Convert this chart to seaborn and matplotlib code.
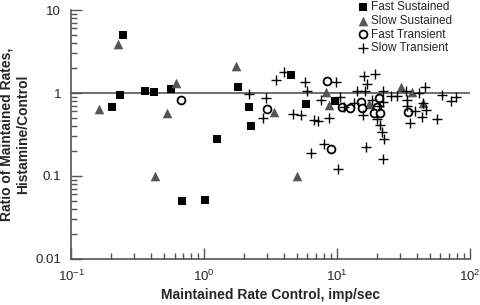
import numpy as np
import pandas as pd
import matplotlib
matplotlib.use("Agg")
import matplotlib.pyplot as plt
import seaborn as sns

sns.set_style("ticks")
plt.rcParams['font.family'] = ['Liberation Sans', 'DejaVu Sans']
plt.rcParams['mathtext.default'] = 'regular'

# Fast Sustained (filled squares)
fs_x = [0.246, 0.234, 0.203, 0.36, 0.42, 0.565, 1.80, 2.18, 2.26, 1.25, 0.684, 1.02, 4.51, 5.85, 9.66]
fs_y = [5.0, 0.946, 0.678, 1.06, 1.03, 1.12, 1.18, 0.68, 0.40, 0.279, 0.050, 0.051, 1.65, 0.74, 0.80]

# Slow Sustained (gray triangles)
ss_x = [0.226, 0.162, 0.616, 0.527, 1.74, 3.36, 5.0, 0.428, 8.27, 8.71, 17.4, 30.3, 36.6, 44.3]
ss_y = [3.9, 0.642, 1.32, 0.574, 2.11, 0.59, 0.10, 0.10, 1.03, 0.72, 0.74, 1.18, 1.03, 0.76]

# Fast Transient (open circles)
ft_x = [0.672, 2.98, 8.41, 9.01, 10.9, 12.5, 15.1, 15.4, 20.0, 20.7, 19.0, 21.1, 34.2]
ft_y = [0.82, 0.64, 1.39, 0.21, 0.68, 0.66, 0.78, 0.66, 0.68, 0.87, 0.57, 0.57, 0.59]

# Slow Transient (plus)
st_x = [2.18, 2.93, 2.78, 3.48, 4.0, 4.67, 5.36, 5.75, 5.95, 6.71, 7.20, 7.58, 8.71,
        9.83, 10.5, 7.98, 6.38, 10.2, 16.5, 16.0, 19.3, 16.8, 14.1, 16.2, 11.3, 13.4,
        15.7, 18.3, 22.2, 22.2, 20.7, 20.0, 21.1, 21.8, 22.6, 22.2, 25.5, 28.3, 33.0,
        33.6, 33.6, 38.6, 41.4, 45.9, 44.3, 46.7, 35.4, 43.6, 56.5, 61.6, 71.9, 78.5]
st_y = [0.97, 0.87, 0.50, 1.43, 1.79, 0.56, 0.54, 1.36, 1.06, 0.47, 0.46, 0.82, 0.50,
        1.36, 0.90, 0.243, 0.189, 0.121, 0.224, 1.60, 1.69, 1.28, 1.06, 1.06, 0.68, 0.76,
        0.54, 0.82, 1.06, 0.78, 0.70, 0.49, 0.41, 0.34, 0.28, 0.16, 0.92, 0.92, 1.06,
        0.82, 0.70, 0.61, 1.0, 1.18, 0.76, 0.62, 0.43, 0.51, 0.49, 0.95, 0.80, 0.90]

fig = plt.figure(figsize=(4.8, 3.05), dpi=100)
ax = fig.add_axes([0.148, 0.151, 0.831, 0.816])

ax.axhline(1, color='#555555', lw=1.2, zorder=0)

sns.scatterplot(x=fs_x, y=fs_y, marker='s', color='black', s=40, linewidth=0,
                ax=ax, label='Fast Sustained', zorder=3)
sns.scatterplot(x=ss_x, y=ss_y, marker='^', color='#555555', s=48, linewidth=0,
                ax=ax, label='Slow Sustained', zorder=3)
sns.scatterplot(x=ft_x, y=ft_y, marker='o', color='white', edgecolor='black', s=32,
                linewidth=1.3, ax=ax, label='Fast Transient', zorder=3)
sns.scatterplot(x=st_x, y=st_y, marker='+', color='black', s=50, linewidth=1,
                ax=ax, label='Slow Transient', zorder=3)

ax.set_xscale('log')
ax.set_yscale('log')
ax.set_xlim(0.1, 100)
ax.set_ylim(0.01, 10)
ax.set_yticks([0.01, 0.1, 1, 10])
ax.set_yticklabels(['0.01', '0.1', '1', '10'])

sns.despine(ax=ax)
for sp in ['left', 'bottom']:
    ax.spines[sp].set_color('#555555')
    ax.spines[sp].set_linewidth(1.2)
ax.tick_params(which='major', direction='in', length=8, width=1, color='#555555',
               labelsize=9.5, pad=7)
ax.tick_params(which='minor', direction='in', length=4, width=1, color='#555555')

ax.set_xlabel('Maintained Rate Control, imp/sec', fontsize=10, fontweight='bold',
              labelpad=3)
ax.set_ylabel('Ratio of Maintained Rates,\nHistamine/Control', fontsize=10,
              fontweight='bold', labelpad=4)

ax.legend(loc='upper right', bbox_to_anchor=(0.97, 1.06), frameon=False,
          fontsize=8.5, handletextpad=0.1, labelspacing=0.15, borderpad=0,
          handlelength=1.2)

plt.savefig('out.png', dpi=100)
